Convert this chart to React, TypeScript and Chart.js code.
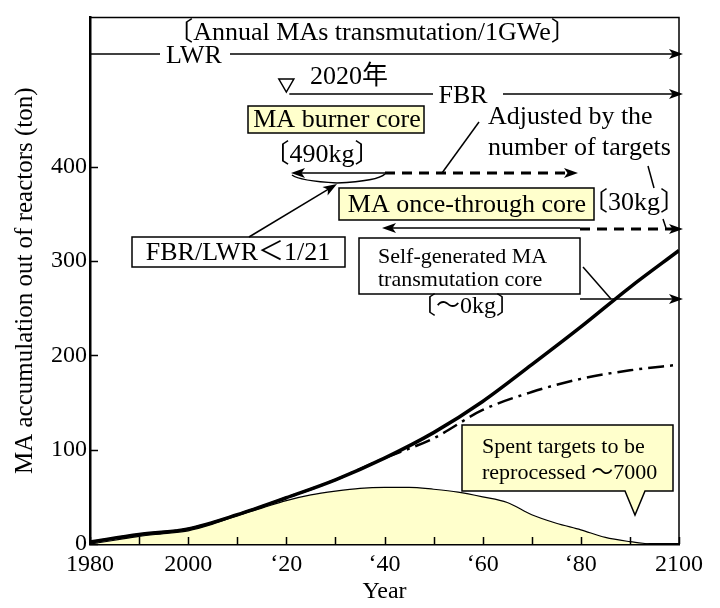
import React, { useEffect, useRef } from 'react';
import { Chart, registerables } from 'chart.js';

Chart.register(...registerables);

// ---- data ----
const years = [1980, 1990, 2000, 2010, 2020, 2030, 2040, 2050, 2060, 2070, 2080, 2090, 2100];
const selfGeneratedCore = [2, 10, 16, 31, 49, 68, 91, 118, 151, 190, 230, 272, 311];
const onceThroughCore = [2, 10, 16, 31, 49, 68, 91, 112, 142, 161, 175, 184, 190];
const spentYears = [1980, 1985, 1990, 1995, 2000, 2005, 2010, 2015, 2020, 2025, 2030, 2035, 2040, 2045, 2050, 2055, 2060, 2065, 2070, 2075, 2080, 2085, 2090, 2094];
const spentTargets = [0, 4, 8, 11, 14, 21, 30, 38, 46, 52, 56, 59, 60, 60, 58, 55, 50, 44, 31, 22, 15, 7, 2.5, 0];
const xTickValues = [1980, 1990, 2000, 2010, 2020, 2030, 2040, 2050, 2060, 2070, 2080, 2090, 2100];
const xTickLabels: Record<number, string> = {
  1980: '1980', 2000: '2000', 2020: '\u201820', 2040: '\u201840', 2060: '\u201860', 2080: '\u201880', 2100: '2100',
};
const yTickValues = [0, 100, 200, 300, 400];

const SERIF = "'Liberation Serif', 'Noto Sans CJK JP', serif";
const YELLOW = '#FFFFCC';

function pts(xs: number[], ys: number[]) {
  return xs.map((x, i) => ({ x, y: ys[i] }));
}

const annotations = {
  id: 'annotations',
  afterDraw(chart: any) {
    const ctx: CanvasRenderingContext2D = chart.ctx;
    const { left, right, top, bottom } = chart.chartArea;
    const xs = chart.scales.x;
    const ys = chart.scales.y;
    ctx.save();
    ctx.strokeStyle = '#000';
    ctx.fillStyle = '#000';

    // frame top/right
    ctx.lineWidth = 1.5;
    ctx.beginPath();
    ctx.moveTo(left, top);
    ctx.lineTo(right, top);
    ctx.lineTo(right, bottom);
    ctx.stroke();

    // inward ticks
    ctx.beginPath();
    xs.ticks.forEach((t: any) => {
      const x = Math.round(xs.getPixelForValue(t.value)) + 0.5;
      ctx.moveTo(x, bottom);
      ctx.lineTo(x, bottom - 7);
    });
    ys.ticks.forEach((t: any) => {
      const y = Math.round(ys.getPixelForValue(t.value)) + 0.5;
      ctx.moveTo(left, y);
      ctx.lineTo(left + 8, y);
    });
    ctx.stroke();

    const line = (x1: number, y1: number, x2: number, y2: number, w = 1.5, dash: number[] = []) => {
      ctx.save();
      ctx.lineWidth = w;
      ctx.setLineDash(dash);
      ctx.beginPath();
      ctx.moveTo(x1, y1);
      ctx.lineTo(x2, y2);
      ctx.stroke();
      ctx.restore();
    };
    const head = (x1: number, y1: number, x2: number, y2: number, len = 14, hw = 5) => {
      const a = Math.atan2(y2 - y1, x2 - x1);
      const bx = x2 - len * Math.cos(a);
      const by = y2 - len * Math.sin(a);
      const nx = -Math.sin(a) * hw;
      const ny = Math.cos(a) * hw;
      ctx.beginPath();
      ctx.moveTo(x2, y2);
      ctx.lineTo(bx + nx, by + ny);
      ctx.lineTo(bx + (x2 - bx) * 0.25, by + (y2 - by) * 0.25);
      ctx.lineTo(bx - nx, by - ny);
      ctx.closePath();
      ctx.fill();
    };
    const arrow = (x1: number, y1: number, x2: number, y2: number, w = 1.5, dash: number[] = []) => {
      const a = Math.atan2(y2 - y1, x2 - x1);
      line(x1, y1, x2 - 8 * Math.cos(a), y2 - 8 * Math.sin(a), w, dash);
      head(x1, y1, x2, y2);
    };
    const text = (s: string, x: number, y: number, size = 26, align: CanvasTextAlign = 'center') => {
      ctx.font = `${size}px ${SERIF}`;
      ctx.textAlign = align;
      ctx.textBaseline = 'middle';
      ctx.fillStyle = '#000';
      ctx.fillText(s, x, y);
    };
    const box = (x1: number, y1: number, x2: number, y2: number, fill: string) => {
      ctx.fillStyle = fill;
      ctx.fillRect(x1, y1, x2 - x1, y2 - y1);
      ctx.lineWidth = 1.5;
      ctx.strokeRect(x1, y1, x2 - x1, y2 - y1);
      ctx.fillStyle = '#000';
    };

    // header
    text('\u3014Annual MAs transmutation/1GWe\u3015', 372, 33);

    // LWR
    line(left, 54, 160, 54);
    arrow(230, 54, right + 4, 54);
    text('LWR', 194, 56);

    // 2020 marker
    const x2020 = xs.getPixelForValue(2020);
    ctx.lineWidth = 1.5;
    ctx.beginPath();
    ctx.moveTo(x2020 - 7.5, 79);
    ctx.lineTo(x2020 + 7.5, 79);
    ctx.lineTo(x2020, 92);
    ctx.closePath();
    ctx.stroke();
    text('2020\u5e74', 349, 77);

    // FBR
    line(x2020 + 3, 94, 433, 94);
    arrow(503, 94, right + 4, 94);
    text('FBR', 463, 96);

    // MA burner core
    box(248, 106, 424, 133, YELLOW);
    text('MA burner core', 337, 120);
    text('\u3014490kg\u3015', 322, 155);
    arrow(385, 173, 291, 173);
    ctx.lineWidth = 1.5;
    ctx.beginPath();
    ctx.moveTo(292, 175);
    ctx.quadraticCurveTo(300, 181, 337, 183);
    ctx.quadraticCurveTo(378, 181, 385, 174);
    ctx.stroke();
    arrow(385, 173, 578, 173, 3, [10, 7]);

    // adjusted by targets
    text('Adjusted by the', 488, 117, 26, 'left');
    text('number of targets', 488, 148, 26, 'left');
    line(479, 122, 442, 173);
    line(648, 166, 654, 188);
    line(663, 219, 666, 228);

    // MA once-through core
    box(339, 188, 594, 220, YELLOW);
    text('MA once-through core', 467, 205);
    text('\u301430kg\u3015', 634, 203);
    arrow(580, 228, 382, 228);
    arrow(580, 229, right + 4, 229, 3, [10, 7]);

    // FBR/LWR box
    box(132, 237, 345, 267, '#fff');
    text('FBR/LWR\uff1c1/21', 238, 253);
    arrow(249, 237, 337, 184);

    // Self-generated core
    box(359, 238, 580, 294, '#fff');
    text('Self-generated MA', 378, 257, 22, 'left');
    text('transmutation core', 378, 280, 22, 'left');
    text('\u3014\uff5e0kg\u3015', 466, 307, 24);
    line(583, 267, 611, 299);
    arrow(580, 299, right + 4, 299);

    // Spent targets callout
    ctx.fillStyle = YELLOW;
    ctx.lineWidth = 1.5;
    ctx.beginPath();
    ctx.moveTo(462, 425);
    ctx.lineTo(673, 425);
    ctx.lineTo(673, 491);
    ctx.lineTo(645, 491);
    ctx.lineTo(635, 515);
    ctx.lineTo(625, 491);
    ctx.lineTo(462, 491);
    ctx.closePath();
    ctx.fill();
    ctx.stroke();
    text('Spent targets to be', 482, 447, 22, 'left');
    text('reprocessed \uff5e7000', 482, 473, 22, 'left');

    ctx.restore();
  },
};

export default function App() {
  const ref = useRef<HTMLCanvasElement>(null);
  useEffect(() => {
    if (!ref.current) return;
    const chart = new Chart(ref.current, {
      type: 'line',
      data: {
        datasets: [
          {
            label: 'Self-generated MA transmutation core',
            data: pts(years, selfGeneratedCore),
            borderColor: '#000',
            borderWidth: 3.5,
            pointRadius: 0,
            cubicInterpolationMode: 'monotone',
            fill: false,
          },
          {
            label: 'MA once-through core',
            data: pts(years, onceThroughCore),
            borderColor: '#000',
            borderWidth: 2.5,
            borderDash: [16, 6, 3, 6],
            pointRadius: 0,
            cubicInterpolationMode: 'monotone',
            fill: false,
          },
          {
            label: 'Spent targets',
            data: pts(spentYears, spentTargets),
            borderColor: '#000',
            borderWidth: 1.2,
            backgroundColor: YELLOW,
            pointRadius: 0,
            cubicInterpolationMode: 'monotone',
            fill: 'origin',
          },
        ],
      },
      options: {
        animation: false,
        responsive: false,
        devicePixelRatio: 1,
        layout: { padding: { left: 0, top: 16, right: 41, bottom: 0 } },
        plugins: { legend: { display: false }, tooltip: { enabled: false } },
        scales: {
          x: {
            type: 'linear',
            min: 1980,
            max: 2100,
            afterBuildTicks: (s: any) => {
              s.ticks = xTickValues.map((v) => ({ value: v }));
            },
            afterFit: (s: any) => {
              s.height = 64;
            },
            ticks: {
              autoSkip: false,
              maxRotation: 0,
              padding: 6,
              color: '#000',
              font: { family: SERIF, size: 24 },
              callback: (v: any) => xTickLabels[v as number] ?? '',
            },
            grid: { display: false, drawTicks: false },
            border: { display: true, color: '#000', width: 2.5 },
            title: {
              display: true,
              text: 'Year',
              color: '#000',
              font: { family: SERIF, size: 24 },
              padding: { top: 0, bottom: 2 },
            },
          },
          y: {
            type: 'linear',
            min: 0,
            max: 558,
            afterBuildTicks: (s: any) => {
              s.ticks = yTickValues.map((v) => ({ value: v }));
            },
            afterFit: (s: any) => {
              s.width = 90;
            },
            ticks: {
              padding: 3,
              color: '#000',
              font: { family: SERIF, size: 24 },
            },
            grid: { display: false, drawTicks: false },
            border: { display: true, color: '#000', width: 2.5 },
            title: {
              display: true,
              text: 'MA accumulation out of reactors (ton)',
              color: '#000',
              font: { family: SERIF, size: 25 },
              padding: { top: 10, bottom: 0 },
            },
          },
        },
      },
      plugins: [annotations],
    });
    return () => chart.destroy();
  }, []);
  return (
    <div style={{ position: 'absolute', left: 0, top: 0, width: 720, height: 608, background: '#fff' }}>
      <canvas ref={ref} width={720} height={608} />
    </div>
  );
}
